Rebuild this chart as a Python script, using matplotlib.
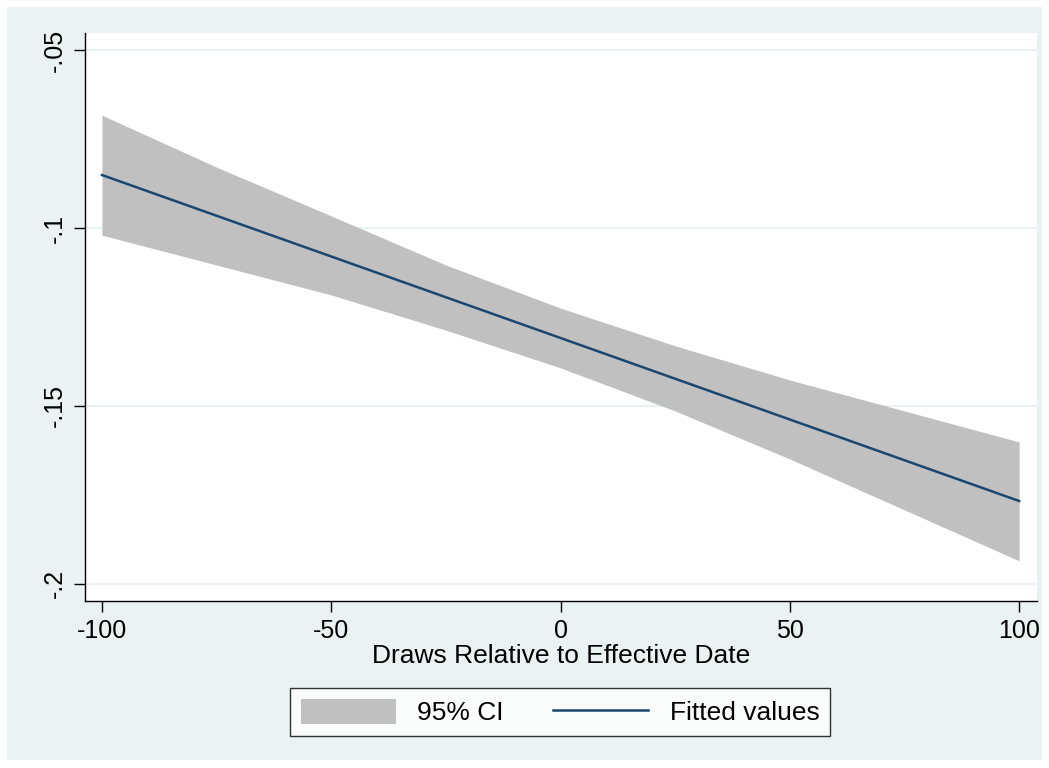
import matplotlib
matplotlib.use("Agg")
import matplotlib.pyplot as plt
from matplotlib.patches import Rectangle, Patch
from matplotlib.lines import Line2D

plt.rcParams['font.family'] = ['Liberation Sans', 'DejaVu Sans']

# Data
x_vals = [-100, -75, -50, -25, 0, 25, 50, 75, 100]
ci_upper = [-0.0683, -0.0829, -0.0966, -0.1104, -0.1225, -0.1331, -0.1427, -0.1514, -0.1601]
ci_lower = [-0.1020, -0.1104, -0.1188, -0.1287, -0.1393, -0.1514, -0.1649, -0.1792, -0.1935]
fit_x = [-100, 100]
fit_y = [-0.0851, -0.1767]

x_ticks = [-100, -50, 0, 50, 100]
x_ticklabels = ["-100", "-50", "0", "50", "100"]
y_ticks = [-0.05, -0.1, -0.15, -0.2]
y_ticklabels = ["-.05", "-.1", "-.15", "-.2"]

bg = '#eaf2f3'
fig = plt.figure(figsize=(10.49, 7.68), dpi=100)
fig.patch.set_facecolor('white')
fig.patches.append(Rectangle((7/1049, 1-760/768), (1042-7)/1049, (760-7)/768,
                             transform=fig.transFigure, facecolor=bg, edgecolor='none', zorder=-10))

ax = fig.add_axes([85/1049, 1-601/768, (1037-85)/1049, (601-33)/768])
ax.set_facecolor('white')

for yt in y_ticks:
    ax.axhline(yt, color=bg, lw=1.5, zorder=0)

ax.fill_between(x_vals, ci_lower, ci_upper, color='#c0c0c0', lw=0, zorder=1)
ax.plot(fit_x, fit_y, color='#1a476f', lw=1.8, zorder=2)

ax.set_xlim(-103.7, 103.9)
ax.set_ylim(-0.2048, -0.0452)
ax.set_xticks(x_ticks)
ax.set_xticklabels(x_ticklabels)
ax.set_yticks(y_ticks)
ax.set_yticklabels(y_ticklabels, rotation=90, va='center')
ax.tick_params(axis='both', direction='out', length=8, width=1, labelsize=18, color='black')
ax.tick_params(axis='y', pad=5)
ax.tick_params(axis='x', pad=5)
for s in ['top', 'right']:
    ax.spines[s].set_visible(False)
for s in ['left', 'bottom']:
    ax.spines[s].set_linewidth(1)
    ax.spines[s].set_color('black')

ax.set_xlabel("Draws Relative to Effective Date", fontsize=19, labelpad=1)

handles = [Patch(facecolor='#c0c0c0', edgecolor='none'),
           Line2D([0], [0], color='#1a476f', lw=1.8)]
leg = fig.legend(handles, ["95% CI", "Fitted values"], loc='center',
                 bbox_to_anchor=(560/1049, 1-712/768), ncol=2, fontsize=19,
                 frameon=True, fancybox=False, edgecolor='black', facecolor='white',
                 handlelength=3.6, handleheight=1.1, columnspacing=1.9, handletextpad=0.8,
                 borderpad=0.4, borderaxespad=0)
leg.get_frame().set_linewidth(1)

fig.savefig("out.png", dpi=100, facecolor='white')
